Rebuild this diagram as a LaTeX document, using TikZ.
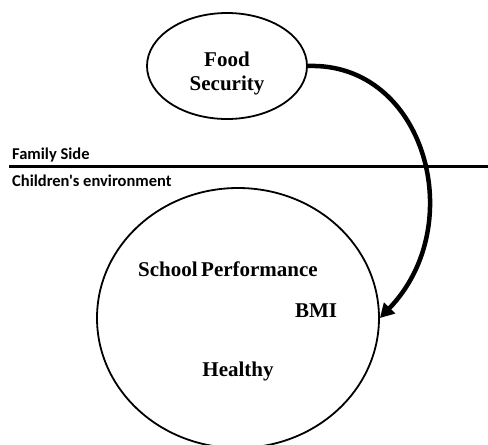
\documentclass[tikz,border=0pt]{standalone}
\usepackage{fontspec}
\setmainfont{Liberation Serif}
\newfontfamily\sidefont{Carlito}
\usetikzlibrary{arrows.meta,shapes.geometric}

\tikzset{
    bubble/.style={draw, ellipse, line width=1.8pt, inner sep=0pt},
    factor/.style={font=\fontsize{21}{24}\selectfont\bfseries, align=center, inner sep=0pt},
    side/.style={font=\sidefont\fontsize{16.5}{18}\selectfont\bfseries, anchor=west, inner sep=0pt},
    flow/.style={line width=4.5pt, -{Triangle[length=14pt,width=15pt]}}
}

\begin{document}
\begin{tikzpicture}[x=1pt,y=-1pt]
    \useasboundingbox (0,0) rectangle (488,445);
    \clip (0,0) rectangle (488,445);

    % the two sides
    \coordinate (divL) at (9,166);
    \coordinate (divR) at (490,166);
    \draw[line width=3pt] (divL) -- (divR);
    \node[side] (family) at (12,155) {Family Side};
    \node[side] (child) at (12,181) {Children's environment};

    \node[bubble, minimum width=160pt, minimum height=106pt] (food) at (227,66) {};
    \node[factor] (foodtxt) at (227,73) {Food\\Security};

    \node[bubble, minimum width=282pt, minimum height=260pt] (big) at (238,318) {};
    \node[factor] (school) at (228,269) {School\,Performance};
    \node[factor] (bmi) at (316,311) {BMI};
    \node[factor] (healthy) at (238,371) {Healthy};

    \draw[flow] (food.east) .. controls (425,62) and (470,225) .. (big.east);
\end{tikzpicture}
\end{document}
